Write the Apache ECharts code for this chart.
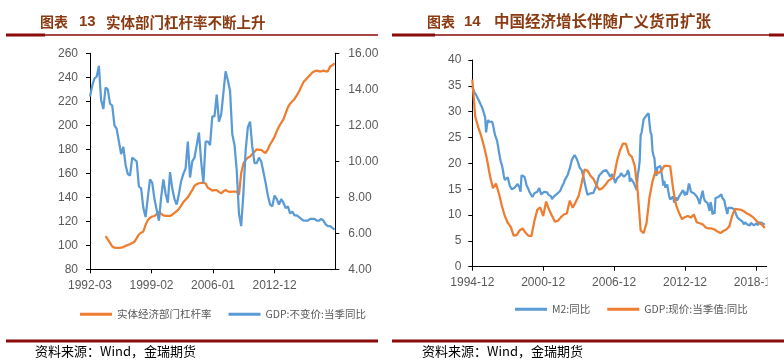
<!DOCTYPE html>
<html><head><meta charset="utf-8">
<script src="https://cdn.jsdelivr.net/npm/echarts@6/dist/echarts.min.js"></script>
<style>html,body{margin:0;padding:0;background:#fff}#c{width:784px;height:363px}</style>
</head><body><div id="c"></div>
<script>
// ---------- Left chart: 图表13 ----------
const leftTitleNo = '13';
const leftTitle = '实体部门杠杆率不断上升';
const leftStart = '1992-03';          // first quarter of the quarterly series
const leftEnd = '2019-10';            // axis end
const leftTickLabels = ['1992-03', '1999-02', '2006-01', '2012-12'];
const leftNames = ['实体经济部门杠杆率', 'GDP:不变价:当季同比'];
// 实体经济部门杠杆率 (quarterly from 1992-03; null = no data)
const leverage = [null,null,null,null,null,null,null,
  107.7,105,102,99,98,97.8,97.8,98,98.5,99.5,100.3,101,102,103,106,109,110.5,111.5,117,121,123,124,124.4,126,128,126,125,124.5,124.5,124.5,125.5,127,128.5,130.3,133,136,138,140,143,146,149.5,151,151.7,152,152,151.5,148,147,145.5,146,146,144.5,143.3,145,146,145,144.5,144.7,144.7,144.7,142,160,168,171,173,174,176,178,180,179.5,179.5,178,177,180,184,187,190.5,195,199,202,205,210,215,218,220,222,225,228,232,236,238,240,242,244,245,245.5,245,245,245.5,245,245,249,250,251.7];
// GDP:不变价:当季同比 (quarterly from 1992-03)
const gdpReal = [13.6,14.2,14.6,14.7,15.3,13.4,12.9,14.1,14.0,13.2,13.1,12.0,11.8,11.1,10.4,10.8,9.8,9.3,9.2,10.2,10.1,10.0,8.6,8.5,7.4,6.9,8.0,9.0,8.8,7.9,7.3,6.7,8.0,9.0,8.2,7.7,9.4,8.5,7.9,7.6,8.2,8.9,9.3,9.6,11.1,9.1,10.0,10.2,10.9,11.6,10.0,8.8,11.1,11.1,10.9,12.5,12.5,13.7,12.2,12.6,13.8,15.0,14.5,13.9,11.5,10.9,9.5,7.1,6.4,8.2,10.6,11.9,12.2,10.8,9.9,9.9,10.2,10.0,9.4,8.8,8.1,7.6,7.5,8.1,7.9,7.6,7.9,7.7,7.4,7.5,7.1,7.2,7.0,7.0,6.9,6.8,6.7,6.7,6.7,6.8,6.8,6.8,6.7,6.7,6.8,6.7,6.5,6.4,6.4,6.3,6.2];

// ---------- Right chart: 图表14 ----------
const rightTitleNo = '14';
const rightTitle = '中国经济增长伴随广义货币扩张';
const rightStart = '1994-12';
const rightEnd = '2019-11';
const rightTickLabels = ['1994-12', '2000-12', '2006-12', '2012-12', '2018-12'];
const rightNames = ['M2:同比', 'GDP:现价:当季值:同比'];
// M2:同比 (monthly from 1994-12)
const m2 = [34.8,34.3,33.8,33.5,33.2,32.8,32.4,32.0,31.6,31.3,30.8,30.2,
  29.5,29.0,26.0,27.5,28.4,28.0,27.7,27.8,28.1,27.5,26.5,25.5,
  25.3,24.5,23.5,22.3,21.2,20.3,19.7,18.8,17.6,16.8,16.9,16.8,
  17.3,16.5,15.7,15.5,15.0,14.8,15.0,15.3,15.5,15.6,16.0,16.1,
  15.3,14.5,17.7,17.7,17.4,17.4,16.7,15.8,15.5,15.0,14.5,14.3,
  14.7,13.5,13.8,14.2,14.0,14.2,14.5,14.8,15.2,14.6,14.0,13.9,
  13.9,14.5,14.8,14.6,14.4,14.0,13.9,13.9,13.6,13.1,13.4,13.6,
  13.9,13.5,14.1,14.2,14.2,14.6,15.0,15.5,15.6,16.2,16.8,17.0,
  17.1,17.8,18.5,19.0,19.8,20.6,21.0,21.3,21.6,21.4,20.9,20.4,
  19.8,19.2,19.0,18.7,18.0,17.3,16.4,15.5,14.7,13.9,13.8,13.9,
  14.2,13.9,14.0,14.3,14.8,14.7,15.6,16.4,17.2,17.7,18.0,18.1,
  18.3,18.5,18.7,18.8,18.7,18.6,18.4,17.8,17.4,17.5,17.9,18.1,
  17.0,16.2,16.45,17.1,17.4,17.3,17.6,18.1,18.0,18.1,17.4,17.1,
  17.6,18.0,18.7,18.2,16.45,17.1,17.2,16.8,16.2,16.0,15.3,14.8,
  17.8,18.8,20.5,25.5,26.0,25.7,28.5,28.4,28.5,29.3,29.6,29.7,
  27.7,26.0,25.5,22.5,21.5,21.0,18.5,17.6,19.2,19.0,19.3,19.5,
  19.7,17.2,15.7,16.6,15.3,15.1,15.9,14.7,13.6,13.0,12.7,12.7,
  13.6,12.4,13.0,13.4,12.8,13.2,13.6,13.9,14.2,14.5,14.8,14.3,
  13.8,14.5,13.9,15.0,16.1,15.5,14.5,14.5,14.7,14.2,14.3,14.2,
  13.6,13.2,13.3,12.1,13.2,13.4,14.7,13.5,12.8,12.9,12.6,12.3,
  12.2,10.8,12.5,11.6,10.1,10.8,10.2,13.3,13.3,13.1,13.5,13.7,
  13.3,14.0,13.3,13.4,12.8,11.8,11.8,10.2,11.4,11.5,11.6,11.4,
  11.3,11.3,11.1,10.6,10.5,9.6,9.4,9.2,8.9,9.2,8.8,9.1,
  8.2,8.6,8.8,8.2,8.3,8.3,8.0,8.5,8.2,8.3,8.0,8.0,
  8.1,8.4,8.0,8.6,8.5,8.5,8.5,8.1,8.2,8.4];
// GDP:现价:当季值:同比 (quarterly from 1994-12)
const gdpNominal = [36.2,29.0,27.0,25.3,23.2,20.7,17.5,15.2,16.1,14.2,
  11.8,9.8,8.5,7.7,6.0,6.1,7.0,7.4,6.6,6.0,
  5.9,8.8,11.0,11.5,9.8,12.6,11.0,9.8,8.7,8.9,
  9.6,10.1,10.3,12.8,11.4,12.5,13.7,16.1,18.8,18.6,
  17.6,17.0,15.8,14.9,15.2,15.8,16.6,17.0,17.5,20.5,
  22.5,23.8,23.8,21.8,21.3,19.5,14.5,7.0,6.5,8.5,
  13.5,16.5,18.4,18.1,18.6,19.5,19.5,19.4,15.0,11.9,
  10.4,9.2,9.6,9.8,9.5,10.1,8.6,8.4,8.2,7.6,
  7.4,7.4,7.2,6.8,6.5,6.9,7.2,7.8,9.9,11.2,
  11.1,11.0,10.7,10.3,10.0,9.6,9.0,8.4,8.2,7.5];

const sourceText = '资料来源：Wind，金瑞期货';

// ---------- helpers ----------
function ym(s){ const p = s.split('-'); return [+p[0], +p[1]]; }
function monthsFrom(base, s){ const a = ym(base), b = ym(s); return (b[0]-a[0])*12 + (b[1]-a[1]); }
function labelOf(base, idx){
  const a = ym(base); const t = a[0]*12 + (a[1]-1) + Math.round(idx);
  const y = Math.floor(t/12), m = t%12 + 1;
  return y + '-' + (m < 10 ? '0' + m : m);
}
const leftTickVals = leftTickLabels.map(s => monthsFrom(leftStart, s));
const rightTickVals = rightTickLabels.map(s => monthsFrom(rightStart, s));

const leverageData = leverage.map((v,i)=>[i*3, v]).filter(d => d[1] !== null);
const gdpRealData = gdpReal.map((v,i)=>[i*3, v]);
const m2Data = m2.map((v,i)=>[i, v]);
const gdpNomData = gdpNominal.map((v,i)=>[i*3, v]);

const BLUE = '#5B9BD5', ORANGE = '#ED7D31', LABEL = '#595959', RED = '#8B0A0A', TITLE = '#8A3B12';
const NUMFONT = '"Liberation Sans", Arial, sans-serif';
const CJK = '"Noto Sans CJK SC", sans-serif';

const axisLineStyle = { show: true, lineStyle: { color: '#000', width: 1 } };
const tickStyle = { show: true, length: 4, lineStyle: { color: '#000', width: 1 } };
const labelStyle = { color: LABEL, fontSize: 12, fontFamily: NUMFONT };

const chart = echarts.init(document.getElementById('c'), null, { renderer: 'canvas' });
const option = {
  animation: false,
  backgroundColor: '#fff',
  grid: [
    { left: 90, top: 53.3, width: 245.3, height: 216 },
    { left: 472.3, top: 60, width: 294.4, height: 206.7 }
  ],
  xAxis: [
    { type: 'value', gridIndex: 0, min: 0, max: monthsFrom(leftStart, leftEnd),
      axisLine: axisLineStyle, splitLine: { show: false },
      axisTick: Object.assign({ customValues: leftTickVals }, tickStyle),
      axisLabel: Object.assign({ customValues: leftTickVals, margin: 10,
        formatter: v => labelOf(leftStart, v) }, labelStyle) },
    { type: 'value', gridIndex: 1, min: 0, max: monthsFrom(rightStart, rightEnd),
      axisLine: axisLineStyle, splitLine: { show: false },
      axisTick: Object.assign({ customValues: rightTickVals }, tickStyle),
      axisLabel: Object.assign({ customValues: rightTickVals, margin: 10,
        formatter: v => labelOf(rightStart, v) }, labelStyle) }
  ],
  yAxis: [
    { type: 'value', gridIndex: 0, position: 'left', min: 80, max: 260, interval: 20,
      axisLine: axisLineStyle, axisTick: tickStyle, splitLine: { show: false },
      axisLabel: Object.assign({ margin: 12 }, labelStyle) },
    { type: 'value', gridIndex: 0, position: 'right', min: 4, max: 16, interval: 2,
      axisLine: axisLineStyle, axisTick: tickStyle, splitLine: { show: false },
      axisLabel: Object.assign({ margin: 13, formatter: v => v.toFixed(2) }, labelStyle) },
    { type: 'value', gridIndex: 1, position: 'left', min: 0, max: 40, interval: 5,
      axisLine: axisLineStyle, axisTick: tickStyle, splitLine: { show: false },
      axisLabel: Object.assign({ margin: 11 }, labelStyle) }
  ],
  legend: [
    { data: leftNames, left: 80, top: 309, padding: 0, itemGap: 17, itemWidth: 32, itemHeight: 3,
      icon: 'rect', selectedMode: false,
      textStyle: { color: LABEL, fontSize: 10.5, fontFamily: CJK } },
    { data: rightNames, left: 515, top: 304, padding: 0, itemGap: 17, itemWidth: 32, itemHeight: 3,
      icon: 'rect', selectedMode: false,
      textStyle: { color: LABEL, fontSize: 10.5, fontFamily: CJK } }
  ],
  series: [
    { name: leftNames[0], type: 'line', xAxisIndex: 0, yAxisIndex: 0, data: leverageData,
      symbol: 'none', color: ORANGE, lineStyle: { width: 2.25, color: ORANGE }, z: 2 },
    { name: leftNames[1], type: 'line', xAxisIndex: 0, yAxisIndex: 1, data: gdpRealData,
      symbol: 'none', color: BLUE, lineStyle: { width: 2.25, color: BLUE }, z: 3 },
    { name: rightNames[0], type: 'line', xAxisIndex: 1, yAxisIndex: 2, data: m2Data,
      symbol: 'none', color: BLUE, lineStyle: { width: 2.25, color: BLUE }, z: 2 },
    { name: rightNames[1], type: 'line', xAxisIndex: 1, yAxisIndex: 2, data: gdpNomData,
      symbol: 'none', color: ORANGE, lineStyle: { width: 2.25, color: ORANGE }, z: 3 }
  ],
  graphic: [
    // cover clipped tick label at right edge
    { type: 'rect', shape: { x: 767.5, y: 274, width: 17, height: 22 }, style: { fill: '#fff' }, z: 100 },
    // titles
    { type: 'text', x: 40, y: 22, style: { text: '图表', font: 'bold 14px ' + CJK, fill: TITLE, verticalAlign: 'middle' }, z: 100 },
    { type: 'text', x: 79, y: 22, style: { text: leftTitleNo, font: 'bold 15px ' + NUMFONT, fill: TITLE, verticalAlign: 'middle' }, z: 100 },
    { type: 'text', x: 106, y: 22, style: { text: leftTitle, font: 'bold 14.5px ' + CJK, fill: TITLE, verticalAlign: 'middle' }, z: 100 },
    { type: 'text', x: 427, y: 21.5, style: { text: '图表', font: 'bold 14px ' + CJK, fill: TITLE, verticalAlign: 'middle' }, z: 100 },
    { type: 'text', x: 464, y: 21.5, style: { text: rightTitleNo, font: 'bold 15px ' + NUMFONT, fill: TITLE, verticalAlign: 'middle' }, z: 100 },
    { type: 'text', x: 494, y: 21.5, style: { text: rightTitle, font: 'bold 15.5px ' + CJK, fill: TITLE, verticalAlign: 'middle' }, z: 100 },
    // header rules
    { type: 'rect', shape: { x: 6, y: 34.3, width: 372, height: 1.4 }, style: { fill: RED }, z: 100 },
    { type: 'rect', shape: { x: 6, y: 33.5, width: 39, height: 3 }, style: { fill: RED }, z: 100 },
    { type: 'rect', shape: { x: 392, y: 34.3, width: 377, height: 1.4 }, style: { fill: RED }, z: 100 },
    { type: 'rect', shape: { x: 392, y: 33.5, width: 43, height: 3 }, style: { fill: RED }, z: 100 },
    { type: 'rect', shape: { x: 769, y: 33.5, width: 15, height: 3 }, style: { fill: RED }, z: 100 },
    // footer rules
    { type: 'rect', shape: { x: 6, y: 339.5, width: 372, height: 3 }, style: { fill: RED }, z: 100 },
    { type: 'rect', shape: { x: 392, y: 339.5, width: 392, height: 3 }, style: { fill: RED }, z: 100 },
    // sources
    { type: 'text', x: 35, y: 351.5, style: { text: sourceText, font: '13px ' + CJK, fill: '#000', verticalAlign: 'middle' }, z: 100 },
    { type: 'text', x: 422, y: 351.5, style: { text: sourceText, font: '13px ' + CJK, fill: '#000', verticalAlign: 'middle' }, z: 100 }
  ]
};
chart.setOption(option);
</script>
</body></html>
